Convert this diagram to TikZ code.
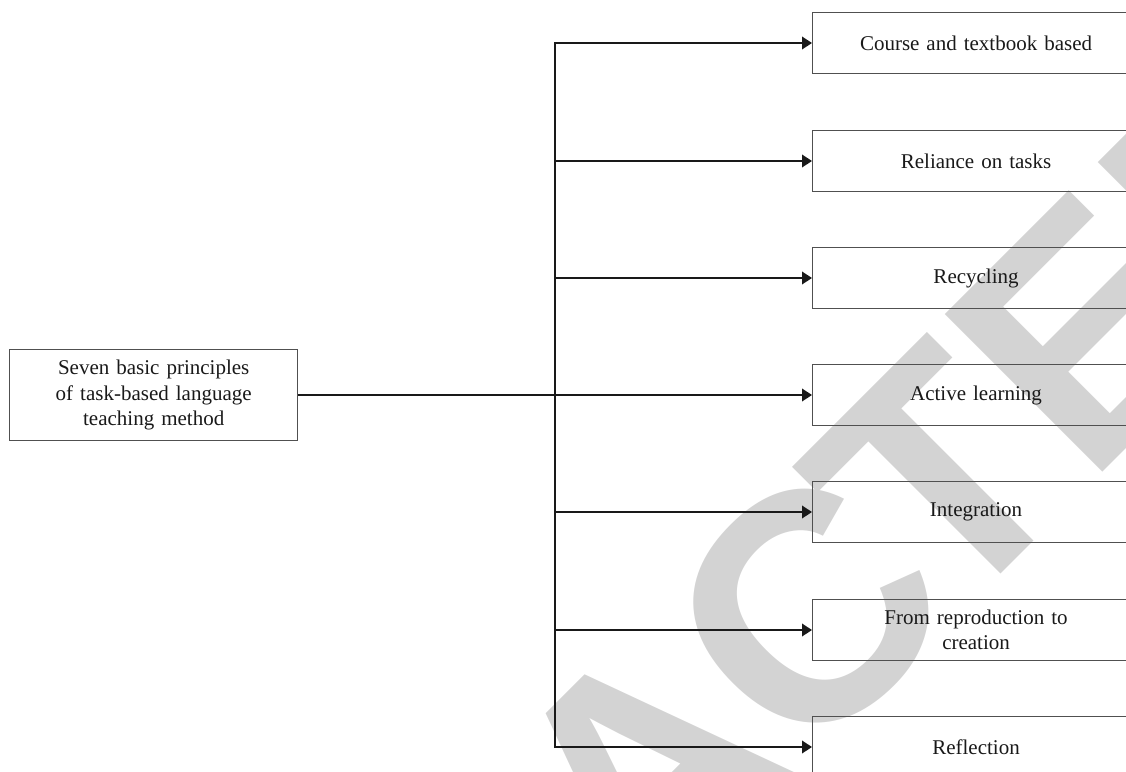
\documentclass[tikz,border=0pt]{standalone}
\usepackage{fontspec}
\setmainfont{Liberation Serif}
\newfontfamily\wmfont{Liberation Sans}
\usetikzlibrary{arrows.meta}
\definecolor{wm}{RGB}{211,211,211}
\definecolor{boxline}{RGB}{80,80,80}
\definecolor{ink}{RGB}{25,25,25}
\begin{document}
\begin{tikzpicture}[x=1pt,y=-1pt,
  wmletter/.style={rotate=45,anchor=base west,inner sep=0pt,outer sep=0pt,text=wm,
    font=\wmfont\bfseries\fontsize{324}{324}\selectfont},
  itembox/.style={draw=boxline,line width=1.1pt,minimum width=327pt,minimum height=61pt,
    inner sep=0pt,anchor=west,text width=300pt,align=center,text=ink,
    font=\fontsize{21}{25.5}\selectfont},
  mainbox/.style={draw=boxline,line width=1.1pt,minimum width=288pt,minimum height=90.5pt,
    inner sep=0pt,text width=280pt,align=center,text=ink,
    font=\fontsize{21}{25.5}\selectfont},
  conn/.style={line width=2pt,draw=ink},
  trunk/.style={line width=1.6pt,draw=ink},
  arr/.style={conn,-{Triangle[length=10pt,width=12.5pt]}}]
\useasboundingbox (0,0) rectangle (1126,771);
% watermark
\node[wmletter] (wR) at (475.2,1100.3) {R};
\node[wmletter] (wA) at (640.6,934.8) {A};
\node[wmletter] (wC) at (803.3,772.2) {C};
\node[wmletter] (wT) at (947.5,627.9) {T};
\node[wmletter] (wE) at (1087.5,487.9) {E};
\node[wmletter] (wD) at (1240.3,335.2) {D};
% boxes
\node[mainbox] (main) at (153.7,395) {Seven basic principles\\of task-based language\\teaching method};
\node[itembox] (b1) at (812,43) {Course and textbook based};
\node[itembox] (b2) at (812,161) {Reliance on tasks};
\node[itembox] (b3) at (812,278) {Recycling};
\node[itembox] (b4) at (812,395) {Active learning};
\node[itembox] (b5) at (812,512) {Integration};
\node[itembox] (b6) at (812,630) {From reproduction to\\creation};
\node[itembox] (b7) at (812,747) {Reflection};
% junctions
\coordinate (j1) at (555,43);
\coordinate (j2) at (555,161);
\coordinate (j3) at (555,278);
\coordinate (j5) at (555,512);
\coordinate (j6) at (555,630);
\coordinate (j7) at (555,747);
\draw[trunk,line cap=rect] (j1) -- (j7);
\draw[arr] (main.east) -- (b4.west);
\draw[arr] (j1) -- (b1.west);
\draw[arr] (j2) -- (b2.west);
\draw[arr] (j3) -- (b3.west);
\draw[arr] (j5) -- (b5.west);
\draw[arr] (j6) -- (b6.west);
\draw[arr] (j7) -- (b7.west);
\end{tikzpicture}
\end{document}
